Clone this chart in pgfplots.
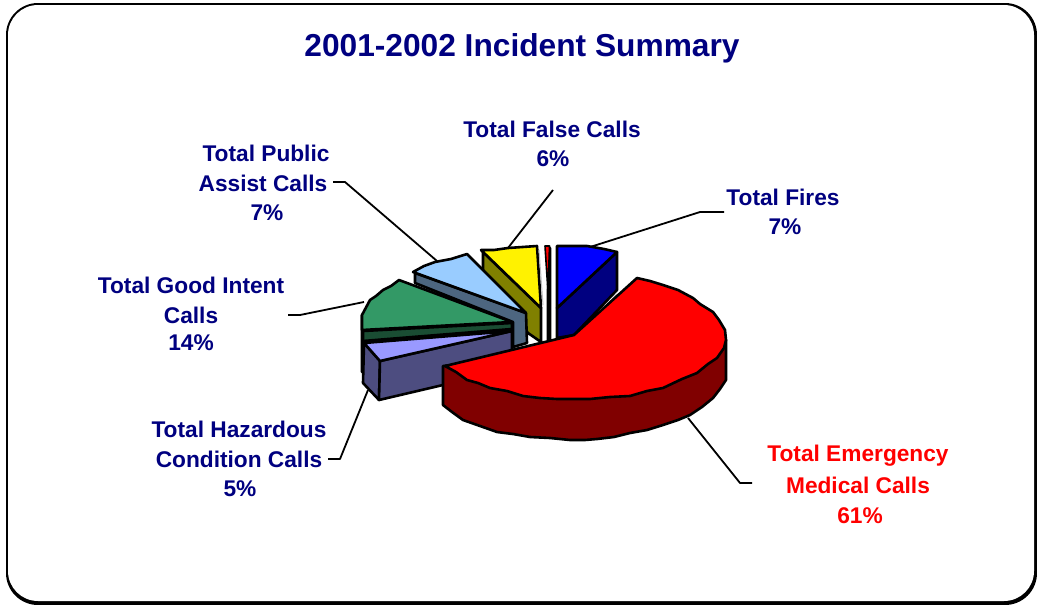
\documentclass[border=0pt]{standalone}
\usepackage{pgfplots}
\pgfplotsset{compat=1.18}
\usepackage{fontspec}
\setmainfont{Liberation Sans}
\definecolor{ttl}{RGB}{0,0,128}
\definecolor{redside}{RGB}{128,0,0}
\definecolor{blueside}{RGB}{0,0,128}
\definecolor{yelside}{RGB}{128,128,0}
\definecolor{skytop}{RGB}{153,204,255}
\definecolor{skyside}{RGB}{77,102,128}
\definecolor{grntop}{RGB}{51,153,102}
\definecolor{grnside}{RGB}{26,77,51}
\definecolor{pertop}{RGB}{153,153,255}
\definecolor{perside}{RGB}{77,77,128}
\newcommand{\lab}[3]{\node[font=\fontsize{22.7}{22.7}\selectfont\bfseries,text=#1,inner sep=0pt] at (axis cs:#2) {#3};}
\begin{document}
\begin{tikzpicture}
\begin{axis}[
  width=1037pt, height=605pt, scale only axis,
  xmin=0, xmax=1037, ymin=0, ymax=605, y dir=reverse,
  axis lines=none, clip=false,
  every axis plot/.append style={line width=2.6pt, line join=round},
]
% keeps the page as large as the whole axis
\path (axis cs:0,0) (axis cs:1037,605);

% frame, thick bottom and right edge
\addplot[fill=black, draw=none, rounded corners=32pt] coordinates {(6,3) (1037,3) (1037,605) (6,605)} -- cycle;
\addplot[fill=white, draw=none, rounded corners=30pt] coordinates {(8,5) (1034,5) (1034,601) (8,601)} -- cycle;

% leader lines
\addplot[black, line width=1.8pt] coordinates {(724,212) (700,212) (587,248)};
\addplot[black, line width=1.8pt] coordinates {(553,190) (508,248)};
\addplot[black, line width=1.8pt] coordinates {(333,182) (345,182) (437,261)};
\addplot[black, line width=1.8pt] coordinates {(288,315) (300,315) (364,302)};
\addplot[black, line width=1.8pt] coordinates {(328,459) (340,459) (368,390)};
\addplot[black, line width=1.8pt] coordinates {(752,483) (740,483) (688,418)};

% hazardous, good intent (back to front)
\addplot[fill=black, draw=black] coordinates {(362,315) (362,372) (364,372) (364,330)} -- cycle;
\addplot[fill=perside, draw=black] coordinates {(364,343) (380,361) (379,400) (363,383)} -- cycle;
\addplot[fill=perside, draw=black] coordinates {(380,361) (512,331) (512,358) (443,385) (379,400)} -- cycle;
\addplot[fill=pertop, draw=black] coordinates {(364,343) (512,331) (380,361)} -- cycle;
\addplot[fill=grnside, draw=black] coordinates {(363,331) (512,323) (512,329) (363,341)} -- cycle;
\addplot[fill=grntop, draw=black] coordinates {(362,330) (362,315) (370,300) (376,296) (383,290) (391,286) (399,280) (512,322)} -- cycle;

% false calls
\addplot[fill=yelside, draw=black] coordinates {(483,252) (541,308) (541,342) (528,333) (483,275)} -- cycle;
\addplot[fill=yellow, draw=black] coordinates {(481,250) (494,250) (508,248) (537,246) (541,308)} -- cycle;
\addplot[gray!50, line width=1pt] coordinates {(539,250) (543,305)};

% public assist
\addplot[fill=skyside, draw=black] coordinates {(415,273) (526,313) (527,343) (513,347) (513,322) (415,283)} -- cycle;
\addplot[fill=skytop, draw=black] coordinates {(413,272) (424,266) (435,262) (451,259) (467,254) (526,313)} -- cycle;

% sliver between false calls and fires
\addplot[fill=black, draw=black] coordinates {(548,290) (550,248) (550,340) (548,340)} -- cycle;
\addplot[fill=red, draw=black, line width=1.6pt] coordinates {(545,246) (549.5,246) (548,292)} -- cycle;

% fires
\addplot[fill=blueside, draw=black] coordinates {(557,308) (617,252) (617,290) (574,335) (557,338)} -- cycle;
\addplot[fill=blue, draw=black] coordinates {(557,246) (587,246) (604,249) (617,252) (557,308)} -- cycle;
\addplot[gray!60, line width=1pt] coordinates {(580,333) (617,294)};

% emergency medical
\addplot[fill=redside, draw=black] coordinates {(443,366) (443,405) (452,412) (463,420) (480,426) (497,432) (513,434) (530,437) (550,438) (570,440) (585,440) (597,439) (614,437) (630,433) (647,430) (663,425) (678,420) (690,415) (702,407) (713,398) (720,389) (726,380) (726,340)} -- cycle;
\addplot[fill=red, draw=black] coordinates {(574,335) (637,278) (650,281) (663,285) (678,290) (693,298) (700,304) (713,312) (719,320) (725,330) (726,340) (724,348) (717,358) (708,364) (697,373) (682,379) (663,388) (647,391) (630,396) (610,397) (590,399) (573,399) (557,399) (540,398) (523,396) (507,391) (490,388) (478,383) (467,380) (456,372) (445,366)} -- cycle;

% title and labels
\node[font=\fontsize{31.7}{31.7}\selectfont\bfseries, text=ttl, inner sep=0pt] at (axis cs:522,48) {2001-2002 Incident Summary};
\lab{ttl}{552,129}{Total False Calls}
\lab{ttl}{553,159}{6\%}
\lab{ttl}{783,197}{Total Fires}
\lab{ttl}{785,227}{7\%}
\lab{ttl}{266,153}{Total Public}
\lab{ttl}{263,183}{Assist Calls}
\lab{ttl}{267,213}{7\%}
\lab{ttl}{191,285}{Total Good Intent}
\lab{ttl}{191,315}{Calls}
\lab{ttl}{191,343}{14\%}
\lab{ttl}{239,429}{Total Hazardous}
\lab{ttl}{239,459}{Condition Calls}
\lab{ttl}{240,489}{5\%}
\lab{red}{858,456}{Total Emergency}
\lab{red}{858,485}{Medical Calls}
\lab{red}{860,516}{61\%}
\end{axis}
\end{tikzpicture}
\end{document}
